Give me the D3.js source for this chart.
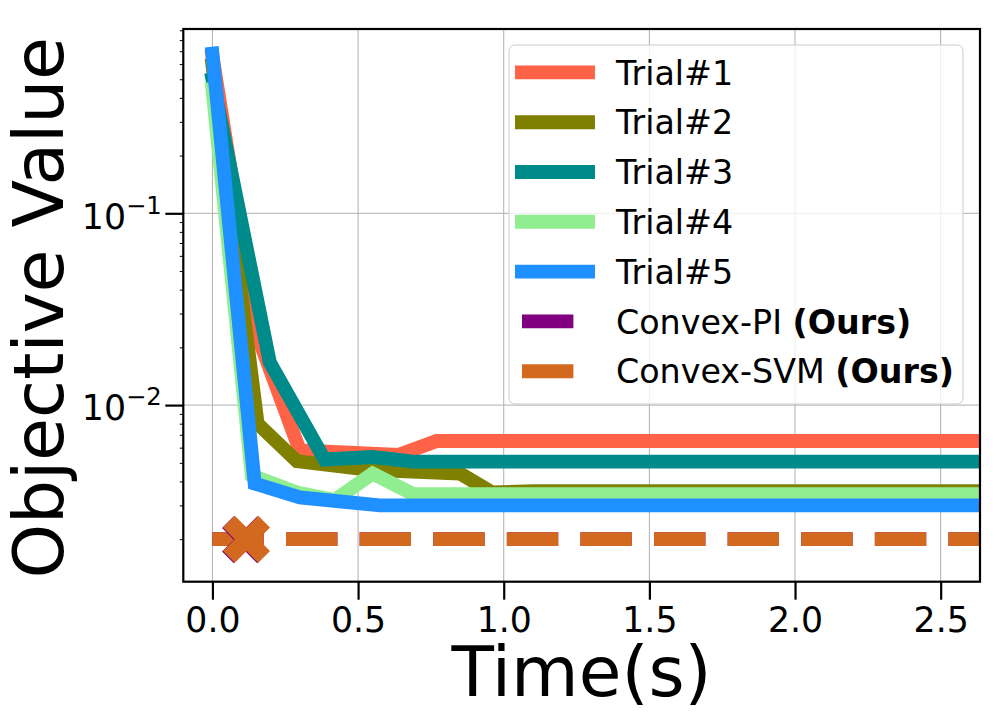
<!DOCTYPE html>
<html>
<head>
<meta charset="utf-8">
<script src="https://cdn.jsdelivr.net/npm/d3@7"></script>
<style>
  body { margin: 0; background: #fff; }
  svg { display: block; }
  text { font-family: "DejaVu Sans", sans-serif; fill: #000; }
</style>
</head>
<body>
<div id="chart"></div>
<script>
// ---- data ----
const trialNames = ["Trial#1", "Trial#2", "Trial#3", "Trial#4", "Trial#5"];
const trial1Time  = [0, 0.153, 0.30, 0.64, 0.77, 2.8];
const trial1Value = [0.66, 0.0234, 0.0058, 0.0055, 0.0065, 0.0065];
const trial2Time  = [0, 0.155, 0.29, 0.54, 0.85, 0.96, 1.1, 2.8];
const trial2Value = [0.594, 0.0080, 0.0051, 0.0046, 0.0044, 0.0035, 0.00356, 0.00356];
const trial3Time  = [0, 0.197, 0.385, 0.55, 0.69, 2.8];
const trial3Value = [0.50, 0.0167, 0.0052, 0.00536, 0.00507, 0.00507];
const trial4Time  = [0, 0.135, 0.29, 0.42, 0.55, 0.69, 2.8];
const trial4Value = [0.445, 0.0043, 0.0035, 0.0032, 0.0044, 0.00343, 0.00343];
const trial5Time  = [0, 0.145, 0.30, 0.575, 2.8];
const trial5Value = [0.68, 0.0039, 0.0033, 0.0030, 0.0030];

const convexNames = ["Convex-PI", "Convex-SVM"];
const convexTime = [0, 2.8];
const convexPIValue  = [0.002, 0.002];
const convexSVMValue = [0.002, 0.002];
const convexPIMarker  = [0.1135, 0.001985];
const convexSVMMarker = [0.117, 0.002];

const xTicks = [0, 0.5, 1.0, 1.5, 2.0, 2.5];
const yTicks = [0.1, 0.01];
const yTickExponents = ["\u22121", "\u22122"];

// ---- styles ----
const trialColors = ["#FF6347", "#808000", "#008B8B", "#90EE90", "#1E90FF"];
const convexColors = ["#800080", "#D2691E"];
const lw = 13.9;
const dash = "51.4 22.2";

const W = 1008, H = 720;
const plot = { left: 183.3, top: 29, right: 980, bottom: 581.7 };

const svg = d3.select("#chart").append("svg").attr("width", W).attr("height", H);

const x = d3.scaleLinear().domain([-0.1, 2.635]).range([plot.left, plot.right]);
const y = d3.scaleLog().domain([0.0012, 0.914]).range([plot.bottom, plot.top]);

svg.append("defs").append("clipPath").attr("id", "plotclip")
  .append("rect")
  .attr("x", plot.left).attr("y", plot.top)
  .attr("width", plot.right - plot.left).attr("height", plot.bottom - plot.top);

// grid
const grid = svg.append("g").attr("stroke", "#b0b0b0").attr("stroke-width", 1);
grid.selectAll(".gx").data(xTicks).enter().append("line")
  .attr("x1", d => x(d)).attr("x2", d => x(d))
  .attr("y1", plot.top).attr("y2", plot.bottom);
grid.selectAll(".gy").data(yTicks).enter().append("line")
  .attr("y1", d => y(d)).attr("y2", d => y(d))
  .attr("x1", plot.left).attr("x2", plot.right);

// lines
const line = d3.line().x(d => x(d[0])).y(d => y(d[1]));
const lines = svg.append("g").attr("clip-path", "url(#plotclip)");

const trials = [
  d3.zip(trial1Time, trial1Value),
  d3.zip(trial2Time, trial2Value),
  d3.zip(trial3Time, trial3Value),
  d3.zip(trial4Time, trial4Value),
  d3.zip(trial5Time, trial5Value)
];
trials.forEach((pts, i) => {
  lines.append("path")
    .attr("d", line(pts))
    .attr("fill", "none")
    .attr("stroke", trialColors[i])
    .attr("stroke-width", lw)
    .attr("stroke-linejoin", "miter")
    .attr("stroke-linecap", "square");
});

[convexPIValue, convexSVMValue].forEach((vals, i) => {
  lines.append("path")
    .attr("d", line(d3.zip(convexTime, vals)))
    .attr("fill", "none")
    .attr("stroke", convexColors[i])
    .attr("stroke-width", lw)
    .attr("stroke-dasharray", dash);
});

// X markers
const xMark = d3.symbol().type(d3.symbolCross).size(1378);
[convexPIMarker, convexSVMMarker].forEach((m, i) => {
  lines.append("path")
    .attr("d", xMark())
    .attr("transform", `translate(${x(m[0])},${y(m[1])}) rotate(45)`)
    .attr("fill", convexColors[i]);
});

// axes
const xAxis = svg.append("g")
  .attr("transform", `translate(0,${plot.bottom})`)
  .call(d3.axisBottom(x).tickValues(xTicks).tickFormat(d3.format(".1f"))
    .tickSize(18).tickPadding(7.5));
xAxis.select(".domain").remove();
xAxis.selectAll(".tick line").attr("stroke", "#000").attr("stroke-width", 2.2);
xAxis.selectAll(".tick text").style("font-size", "34.7px")
  .style("font-family", "'DejaVu Sans', sans-serif").attr("fill", "#000");

const yMinor = y.ticks().filter(d => yTicks.indexOf(d) < 0 && Math.abs(Math.log10(d) - Math.round(Math.log10(d))) > 1e-6);
const yMinorAxis = svg.append("g")
  .attr("transform", `translate(${plot.left},0)`)
  .call(d3.axisLeft(y).tickValues(yMinor).tickFormat("").tickSize(3.5));
yMinorAxis.select(".domain").remove();
yMinorAxis.selectAll(".tick line").attr("stroke", "#000").attr("stroke-width", 1);

const yAxis = svg.append("g")
  .attr("transform", `translate(${plot.left},0)`)
  .call(d3.axisLeft(y).tickValues(yTicks).tickFormat("").tickSize(18));
yAxis.select(".domain").remove();
yAxis.selectAll(".tick line").attr("stroke", "#000").attr("stroke-width", 2.2);
yAxis.selectAll(".tick").each(function (d, i) {
  const t = d3.select(this).append("text")
    .attr("x", -21.5).attr("y", 14.7)
    .attr("text-anchor", "end")
    .style("font-size", "34.7px")
    .text("10");
  t.append("tspan").attr("dy", -15).style("font-size", "24.3px").text(yTickExponents[i]);
});

// frame
svg.append("rect")
  .attr("x", plot.left).attr("y", plot.top)
  .attr("width", plot.right - plot.left).attr("height", plot.bottom - plot.top)
  .attr("fill", "none").attr("stroke", "#000").attr("stroke-width", 2.2);

// axis labels
svg.append("text")
  .attr("x", (plot.left + plot.right) / 2).attr("y", 696)
  .attr("text-anchor", "middle")
  .style("font-size", "69.4px")
  .text("Time(s)");
svg.append("text")
  .attr("transform", `translate(62.6,${(36.6 + 579) / 2}) rotate(-90)`)
  .attr("text-anchor", "middle")
  .style("font-size", "69.4px")
  .text("Objective Value");

// legend
const leg = svg.append("g");
leg.append("rect")
  .attr("x", 509).attr("y", 45).attr("width", 454).attr("height", 359)
  .attr("rx", 6).attr("ry", 6)
  .attr("fill", "#fff").attr("fill-opacity", 0.8)
  .attr("stroke", "#cccccc").attr("stroke-width", 1);

const rowY = i => 72.4 + i * 49.8;
trialNames.forEach((name, i) => {
  leg.append("line")
    .attr("x1", 515).attr("x2", 595).attr("y1", rowY(i)).attr("y2", rowY(i))
    .attr("stroke", trialColors[i]).attr("stroke-width", lw);
  leg.append("text")
    .attr("x", 616).attr("y", rowY(i) + 12.1)
    .style("font-size", "33.3px")
    .text(name);
});
convexNames.forEach((name, j) => {
  const i = trialNames.length + j;
  leg.append("line")
    .attr("x1", 515).attr("x2", 595).attr("y1", rowY(i)).attr("y2", rowY(i))
    .attr("stroke", convexColors[j]).attr("stroke-width", lw)
    .attr("stroke-dasharray", dash).attr("stroke-dashoffset", -7);
  const t = leg.append("text")
    .attr("x", 616).attr("y", rowY(i) + 12.1)
    .style("font-size", "33.3px")
    .text(name + " ");
  t.append("tspan").style("font-weight", "bold").text("(Ours)");
});
</script>
</body>
</html>
